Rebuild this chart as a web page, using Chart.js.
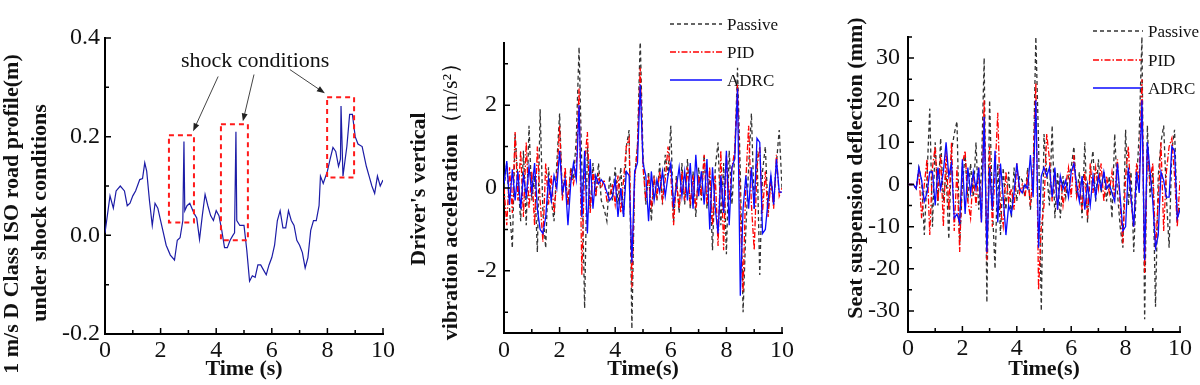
<!DOCTYPE html>
<html>
<head>
<meta charset="utf-8">
<script src="https://cdn.jsdelivr.net/npm/chart.js@4.4.1/dist/chart.umd.min.js"></script>
<style>
  body { margin: 0; background: #fff; }
  #wrap { position: relative; width: 1200px; height: 385px; }
  canvas { position: absolute; top: 0; }
</style>
</head>
<body>
<div id="wrap">
  <canvas id="road" width="400" height="385" style="left:0"></canvas>
  <canvas id="accel" width="400" height="385" style="left:400px"></canvas>
  <canvas id="defl" width="400" height="385" style="left:800px"></canvas>
</div>
<script>
// --- road profile (left panel) ---
const roadTime = [0, 0.18, 0.3, 0.4, 0.55, 0.7, 0.8, 0.9, 1.0, 1.1,
  1.25, 1.35, 1.43, 1.5, 1.6, 1.7, 1.8, 1.9, 2.0, 2.1,
  2.2, 2.35, 2.5, 2.6, 2.7, 2.8, 2.84, 2.87, 2.95, 3.05,
  3.2, 3.3, 3.4, 3.5, 3.6, 3.7, 3.8, 3.9, 4.0, 4.1,
  4.2, 4.3, 4.4, 4.5, 4.6, 4.66, 4.71, 4.74, 4.85, 5.0,
  5.1, 5.2, 5.3, 5.4, 5.5, 5.6, 5.7, 5.8, 5.9, 6.0,
  6.1, 6.2, 6.3, 6.4, 6.5, 6.6, 6.7, 6.8, 6.9, 7.0,
  7.1, 7.2, 7.3, 7.4, 7.5, 7.6, 7.7, 7.75, 7.85, 8.0,
  8.1, 8.2, 8.3, 8.4, 8.45, 8.47, 8.49, 8.56, 8.7, 8.8,
  8.9, 9.0, 9.1, 9.25, 9.4, 9.5, 9.6, 9.7, 9.8, 9.9, 10.0];
const roadProfile = [0.005, 0.08, 0.055, 0.09, 0.10, 0.09, 0.06, 0.065, 0.08, 0.09,
  0.113, 0.115, 0.147, 0.13, 0.07, 0.02, 0.065, 0.055, 0.03, 0.005,
  -0.02, -0.04, -0.05, -0.01, -0.005, 0.03, 0.19, 0.05, 0.06, 0.065,
  0.045, 0.035, -0.008, 0.04, 0.083, 0.06, 0.04, 0.03, 0.05, 0.04,
  0.01, -0.025, -0.025, -0.01, 0.0, 0.005, 0.21, 0.03, 0.02, 0.02,
  -0.03, -0.093, -0.082, -0.085, -0.06, -0.06, -0.07, -0.08, -0.06, -0.045,
  -0.02, 0.03, 0.05, 0.015, 0.015, 0.05, 0.03, 0.02, -0.01, -0.02,
  -0.035, -0.066, -0.045, 0.01, 0.03, 0.03, 0.06, 0.12, 0.105, 0.13,
  0.155, 0.178, 0.17, 0.14, 0.15, 0.155, 0.262, 0.12, 0.18, 0.245,
  0.245, 0.2, 0.185, 0.18, 0.14, 0.12, 0.10, 0.085, 0.12, 0.10, 0.112];

// shock condition boxes and arrows, in data units (time s, profile m)
const shockStart = [2.30, 4.17, 7.99];
const shockEnd = [3.20, 5.14, 8.96];
const shockTop = [0.203, 0.225, 0.280];
const shockBottom = [0.026, -0.010, 0.117];
const arrowFromT = [4.07, 5.36, 6.65];
const arrowFromV = [0.322, 0.326, 0.336];
const arrowToT = [3.17, 4.96, 7.91];
const arrowToV = [0.211, 0.231, 0.288];
const shockLabel = 'shock conditions';
const shockLabelT = 5.4;
const shockLabelV = 0.353;

// --- time base for the two response panels ---
const sampleTime = [0, 0.1, 0.2, 0.3, 0.4, 0.5, 0.6, 0.7, 0.8, 0.9,
  1.0, 1.1, 1.2, 1.3, 1.4, 1.5, 1.6, 1.7, 1.8, 1.9,
  2.0, 2.1, 2.2, 2.3, 2.4, 2.5, 2.6, 2.7, 2.8, 2.9,
  3.0, 3.1, 3.2, 3.3, 3.4, 3.5, 3.6, 3.7, 3.8, 3.9,
  4.0, 4.1, 4.2, 4.3, 4.4, 4.5, 4.6, 4.7, 4.8, 4.9,
  5.0, 5.1, 5.2, 5.3, 5.4, 5.5, 5.6, 5.7, 5.8, 5.9,
  6.0, 6.1, 6.2, 6.3, 6.4, 6.5, 6.6, 6.7, 6.8, 6.9,
  7.0, 7.1, 7.2, 7.3, 7.4, 7.5, 7.6, 7.7, 7.8, 7.9,
  8.0, 8.1, 8.2, 8.3, 8.4, 8.5, 8.6, 8.7, 8.8, 8.9,
  9.0, 9.1, 9.2, 9.3, 9.4, 9.5, 9.6, 9.7, 9.8, 9.9, 10.0];

// driver's vertical acceleration (m/s^2)
const accelPassive = [0, 0.6, -0.5, -1.45, 1.3, 0.2, -0.8, 0.9, -0.9, 1.5,
  -0.3, 0.3, -1.55, 1.9, -0.6, -1.45, 0.5, -0.3, -0.8, 0.6,
  1.8, -0.2, 0.3, -0.4, 0.5, 0.2, 1.2, 3.4, 0.5, -2.9,
  1.0, -0.5, 0.6, -0.2, 0.6, -0.3, -0.5, -0.8, 0.3, -0.3,
  0.5, -0.4, 0.5, -0.7, 1.0, 1.4, -3.4, 0.3, 1.0, 3.6,
  0.8, -0.4, 0.4, -0.8, 0.3, -0.3, 0.6, -0.4, 0.8, 0.3,
  1.5, -0.8, 0.3, -0.6, 0.6, -0.4, 0.7, -0.5, 0.4, -0.7,
  0.5, -0.3, 0.8, -0.5, 0.3, -1.5, 0.5, 1.1, -0.9, 0.6,
  -1.6, 0.9, -0.4, 0.8, 2.9, 0.4, -3.0, -1.0, 0.5, 1.8,
  -0.5, 0.9, -2.1, 0.4, 1.0, -0.6, 0.3, -0.4, 0.6, 1.4, 0.0];
const accelPid = [0, -0.9, 0.5, -0.6, 1.35, -0.3, 0.9, -0.7, 1.1, -0.5,
  0.4, -0.9, 1.0, -0.3, -1.3, 0.6, -0.4, 0.3, -0.6, 0.2,
  1.5, -0.3, 0.5, -0.4, 0.4, 0.1, 0.5, 2.4, -2.1, 0.6,
  1.35, -0.6, 0.4, -0.2, 0.3, 0.0, 0.2, -0.3, -0.2, 0.1,
  -0.4, 0.3, -0.6, 0.2, 1.0, 1.2, -2.4, 0.2, 1.0, 2.9,
  0.5, -0.3, 0.3, -0.5, 0.2, -0.2, 0.4, -0.3, 0.2, 1.0,
  0.3, -0.9, 0.2, -0.5, 0.4, -0.3, 0.5, -0.4, 0.3, -0.5,
  0.3, -0.2, 0.8, -0.4, 0.5, -0.9, 0.3, -1.4, 0.9, -1.5,
  0.8, -0.3, 0.5, 0.9, 2.5, -0.6, -2.5, 0.2, 1.5, -0.4,
  -1.5, 0.5, 1.0, -0.6, 0.4, -0.7, 0.2, -0.5, 0.8, -0.2, 0.0];
const accelAdrc = [0.1, 0.65, -0.4, 0.45, -0.3, 0.4, -0.5, 0.3, -0.2, 0.5,
  -0.1, 0.6, -0.5, -1.0, -1.1, -0.7, 0.2, -0.3, 0.3, 0.0,
  0.9, -0.1, 0.2, -0.9, 0.1, 0.6, 0.2, 2.0, -0.7, 0.9,
  -1.1, 0.7, -0.5, 0.3, 0.1, 0.2, 0.1, -0.1, -0.3, -0.2,
  0.2, -0.7, 0.0, -0.7, 0.4, 0.3, -1.8, 0.4, 0.6, 2.5,
  0.6, 0.3, -0.8, 0.4, -0.3, 0.2, -0.1, 0.4, -0.2, 0.3,
  0.6, -0.4, 0.0, 0.5, -0.2, 0.4, -0.3, 0.6, -0.5, 0.8,
  -0.2, 0.4, -0.4, 0.7, -1.0, 0.5, -0.5, -1.1, 0.3, -0.6,
  0.9, -0.9, 0.5, 0.7, 2.4, -2.6, -0.5, 0.3, -0.5, 0.5,
  -0.5, 1.2, 1.1, -1.1, -1.0, -0.3, 0.3, -0.4, 0.7, -0.1, -0.1];

// seat suspension deflection (mm)
const deflPassive = [0, 0, 0, -1, 4, 1, -12, 2, 18, -10,
  10, -5, 11, -4, 3, -13, 8, 12, 15, -14,
  0, 7, -4, 5, -3, 10, -6, 3, 30, -28,
  20, -5, -20, 5, -12, 4, -6, 3, -8, 4,
  -4, 2, 1, -3, 4, -6, 2, 35, 10, -30,
  12, 3, -5, 14, -8, 3, -8, 2, -3, 2,
  4, 9, -3, 3, -8, 10, -9, 3, 8, -4,
  6, -2, 3, -4, 2, -8, 12, -2, -10, -15,
  13, -5, 3, -16, 0, 12, 35, -32, 14, -3,
  3, -29, 2, 10, 14, -3, -15, 8, 13, -8, -5];
const deflPid = [0, 0, 0, -1, 3, -8, 0, 6, -12, 4,
  9, -4, 7, -10, 8, -6, 10, -11, 4, -16,
  5, 8, -4, -8, 3, -5, 4, -9, 20, -18,
  9, -10, 3, 17, -6, -10, 3, -4, -1, -6,
  5, -2, 0, -3, 2, -5, 3, 24, -25, -10,
  -5, 12, 6, -4, 3, -6, 2, -5, 0, 4,
  -3, 7, -3, 0, -6, 3, -8, 5, -2, 4,
  -1, 5, -4, 2, -2, 3, -3, 6, -5, -14,
  2, 9, -4, -10, 5, 1, 25, -21, 8, 1,
  5, -15, -4, 10, -11, 3, 9, 11, 2, -10, 1];
const deflAdrc = [0, 0, 0, -1, 4, 1, -4, -2, 3, 3,
  -5, 4, -1, 3, 10, 2, 5, -8, -7, -9,
  6, -7, 4, -2, 3, -1, 4, -9, 16, -16,
  4, -6, 8, -9, 5, -3, -12, -5, -7, -2,
  5, -1, -2, 0, -1, 7, -3, 20, -15, 2,
  4, 2, 4, -3, 4, -6, 2, -1, 1, -3,
  3, 5, 0, -4, 2, -6, 0, -5, 2, -3,
  2, -1, 3, -1, 0, -2, -4, 5, -3, -11,
  -10, 4, -3, -10, 3, -2, 20, -18, 10, 3,
  -4, -15, -12, 3, 1, -3, -3, 9, 8, -8, -6];

const serif = '"Liberation Serif", "Times New Roman", serif';
const ink = '#111';

// ticks pointing into the plot, longer where labelled
const innerTicks = {
  id: 'innerTicks',
  afterDraw(chart) {
    const { ctx, scales: { x, y } } = chart;
    ctx.save();
    ctx.strokeStyle = '#000';
    ctx.lineWidth = 1.5;
    ctx.beginPath();
    x.ticks.forEach(t => {
      const p = x.getPixelForValue(t.value);
      ctx.moveTo(p, x.top);
      ctx.lineTo(p, x.top - (t.label ? 6 : 4));
    });
    y.ticks.forEach(t => {
      const p = y.getPixelForValue(t.value);
      ctx.moveTo(y.right, p);
      ctx.lineTo(y.right + (t.label ? 6 : 4), p);
    });
    ctx.stroke();
    ctx.restore();
  }
};

// rotated y titles (allows mixed bold / regular pieces)
const sideTitle = {
  id: 'sideTitle',
  afterDraw(chart, args, opts) {
    const ctx = chart.ctx;
    opts.lines.forEach(line => {
      ctx.save();
      ctx.translate(line.x, line.y);
      ctx.rotate(-Math.PI / 2);
      ctx.fillStyle = ink;
      ctx.textBaseline = 'middle';
      ctx.textAlign = 'left';
      let total = 0;
      line.parts.forEach(p => { ctx.font = p[1]; total += ctx.measureText(p[0]).width; });
      let cx = -total / 2;
      line.parts.forEach(p => {
        ctx.font = p[1];
        ctx.fillText(p[0], cx, 0);
        cx += ctx.measureText(p[0]).width;
      });
      ctx.restore();
    });
  }
};

// stacked line-sample legend sitting over the plot
const lineKey = {
  id: 'lineKey',
  beforeDatasetsDraw(chart, args, opts) {
    const ctx = chart.ctx;
    chart.data.datasets.forEach((ds, i) => {
      const y = opts.rows[i];
      ctx.save();
      ctx.strokeStyle = ds.borderColor;
      ctx.lineWidth = ds.borderWidth;
      ctx.setLineDash(ds.borderDash || []);
      ctx.beginPath();
      ctx.moveTo(opts.x0, y);
      ctx.lineTo(opts.x1, y);
      ctx.stroke();
      ctx.setLineDash([]);
      ctx.fillStyle = ink;
      ctx.font = '17px ' + serif;
      ctx.textBaseline = 'middle';
      ctx.fillText(ds.label, opts.textX, y + 2);
      ctx.restore();
    });
  }
};

// red dashed boxes + arrows for the shock events
const shockMarks = {
  id: 'shockMarks',
  afterDatasetsDraw(chart) {
    const { ctx, scales: { x, y } } = chart;
    ctx.save();
    ctx.strokeStyle = '#ff1a1a';
    ctx.lineWidth = 2;
    ctx.setLineDash([5, 4]);
    shockStart.forEach((t0, i) => {
      const l = x.getPixelForValue(t0), r = x.getPixelForValue(shockEnd[i]);
      const t = y.getPixelForValue(shockTop[i]), b = y.getPixelForValue(shockBottom[i]);
      ctx.strokeRect(l, t, r - l, b - t);
    });
    ctx.setLineDash([]);
    ctx.strokeStyle = '#444';
    ctx.fillStyle = '#222';
    ctx.lineWidth = 1;
    arrowFromT.forEach((t0, i) => {
      const x0 = x.getPixelForValue(t0), y0 = y.getPixelForValue(arrowFromV[i]);
      const x1 = x.getPixelForValue(arrowToT[i]), y1 = y.getPixelForValue(arrowToV[i]);
      const a = Math.atan2(y1 - y0, x1 - x0);
      ctx.beginPath();
      ctx.moveTo(x0, y0);
      ctx.lineTo(x1 - 6 * Math.cos(a), y1 - 6 * Math.sin(a));
      ctx.stroke();
      ctx.beginPath();
      ctx.moveTo(x1, y1);
      ctx.lineTo(x1 - 8 * Math.cos(a) + 3 * Math.sin(a), y1 - 8 * Math.sin(a) - 3 * Math.cos(a));
      ctx.lineTo(x1 - 8 * Math.cos(a) - 3 * Math.sin(a), y1 - 8 * Math.sin(a) + 3 * Math.cos(a));
      ctx.closePath();
      ctx.fill();
    });
    ctx.fillStyle = ink;
    ctx.font = '22px ' + serif;
    ctx.textAlign = 'center';
    ctx.textBaseline = 'middle';
    ctx.fillText(shockLabel, x.getPixelForValue(shockLabelT), y.getPixelForValue(shockLabelV));
    ctx.restore();
  }
};

function axes(cfg) {
  const tickFont = { family: serif, size: 24 };
  return {
    x: {
      type: 'linear', min: 0, max: 10,
      grid: { display: false, drawTicks: false },
      border: { color: '#000', width: 2 },
      ticks: {
        stepSize: 1, autoSkip: false, maxRotation: 0, padding: cfg.xPad, color: ink, font: tickFont,
        callback: v => (v % 2 === 0 ? String(v) : '')
      },
      title: {
        display: true, text: cfg.xTitle, color: ink,
        font: { family: serif, size: 22, weight: 'bold' }, padding: { top: 0, bottom: 2 }
      },
      afterFit: s => { s.height = cfg.xHeight; }
    },
    y: {
      type: 'linear', min: cfg.yMin, max: cfg.yMax,
      grid: { display: false, drawTicks: false },
      border: { color: '#000', width: 2 },
      ticks: {
        stepSize: cfg.yStep, autoSkip: false, padding: cfg.yPad, color: ink, font: tickFont,
        callback: cfg.yLabel
      },
      // keep only whole multiples of the step (axis ends may sit between them)
      afterBuildTicks: s => {
        const out = [];
        const first = Math.ceil(cfg.yMin / cfg.yStep - 1e-9);
        for (let k = first; k * cfg.yStep <= cfg.yMax + 1e-9; k++) {
          out.push({ value: +(k * cfg.yStep).toFixed(6) });
        }
        s.ticks = out;
      },
      afterFit: s => { s.width = cfg.yWidth; }
    }
  };
}

function series(label, data, color, dash, order) {
  return {
    label, data, borderColor: color, borderWidth: 1.3, borderDash: dash,
    pointRadius: 0, tension: 0, fill: false, order
  };
}

const bold22 = 'bold 22px ' + serif;

new Chart(document.getElementById('road'), {
  type: 'line',
  data: {
    labels: roadTime,
    datasets: [{
      label: 'Road profile', data: roadProfile, borderColor: '#1c1ca6', borderWidth: 1.2,
      pointRadius: 0, tension: 0, fill: false
    }]
  },
  options: {
    responsive: false, animation: false,
    layout: { padding: { left: 0, right: 17, top: 38, bottom: 0 } },
    scales: axes({
      xTitle: 'Time (s)', xPad: 2, xHeight: 51,
      yMin: -0.2, yMax: 0.4, yStep: 0.1, yPad: 5, yWidth: 105,
      yLabel: v => (Math.round(v * 10) % 2 === 0 ? v.toFixed(1) : '')
    }),
    plugins: {
      legend: { display: false }, tooltip: { enabled: false },
      sideTitle: {
        lines: [
          { x: 12, y: 214, parts: [['1 m/s D Class ISO road profile(m)', bold22]] },
          { x: 40, y: 213, parts: [['under shock conditions', bold22]] }
        ]
      }
    }
  },
  plugins: [innerTicks, sideTitle, shockMarks]
});

new Chart(document.getElementById('accel'), {
  type: 'line',
  data: {
    labels: sampleTime,
    datasets: [
      series('Passive', accelPassive, '#333333', [4, 3], 3),
      series('PID', accelPid, '#ff0000', [6, 2, 1.5, 2], 2),
      series('ADRC', accelAdrc, '#0a0aff', [], 1)
    ]
  },
  options: {
    responsive: false, animation: false,
    layout: { padding: { left: 0, right: 18, top: 43, bottom: 0 } },
    scales: axes({
      xTitle: 'Time(s)', xPad: 3, xHeight: 52,
      yMin: -3.5, yMax: 3.5, yStep: 1, yPad: 7, yWidth: 104,
      yLabel: v => (v % 2 === 0 ? String(v) : '')
    }),
    plugins: {
      legend: { display: false }, tooltip: { enabled: false },
      lineKey: { x0: 270, x1: 322, textX: 327, rows: [24, 52, 80] },
      sideTitle: {
        lines: [
          { x: 19, y: 189, parts: [["Driver's vertical", bold22]] },
          { x: 51, y: 196, parts: [['vibration acceleration', bold22], ['（m/s²）', '22px ' + serif]] }
        ]
      }
    }
  },
  plugins: [innerTicks, sideTitle, lineKey]
});

new Chart(document.getElementById('defl'), {
  type: 'line',
  data: {
    labels: sampleTime,
    datasets: [
      series('Passive', deflPassive, '#333333', [4, 3], 3),
      series('PID', deflPid, '#ff0000', [6, 2, 1.5, 2], 2),
      series('ADRC', deflAdrc, '#0a0aff', [], 1)
    ]
  },
  options: {
    responsive: false, animation: false,
    layout: { padding: { left: 0, right: 20, top: 37, bottom: 0 } },
    scales: axes({
      xTitle: 'Time(s)', xPad: 2, xHeight: 53,
      yMin: -35, yMax: 35, yStep: 5, yPad: 8, yWidth: 108,
      yLabel: v => (v % 10 === 0 ? String(v) : '')
    }),
    plugins: {
      legend: { display: false }, tooltip: { enabled: false },
      lineKey: { x0: 293, x1: 343, textX: 348, rows: [31, 60, 88] },
      sideTitle: {
        lines: [
          { x: 56, y: 168, parts: [['Seat suspension deflection (mm)', bold22]] }
        ]
      }
    }
  },
  plugins: [innerTicks, sideTitle, lineKey]
});
</script>
</body>
</html>
